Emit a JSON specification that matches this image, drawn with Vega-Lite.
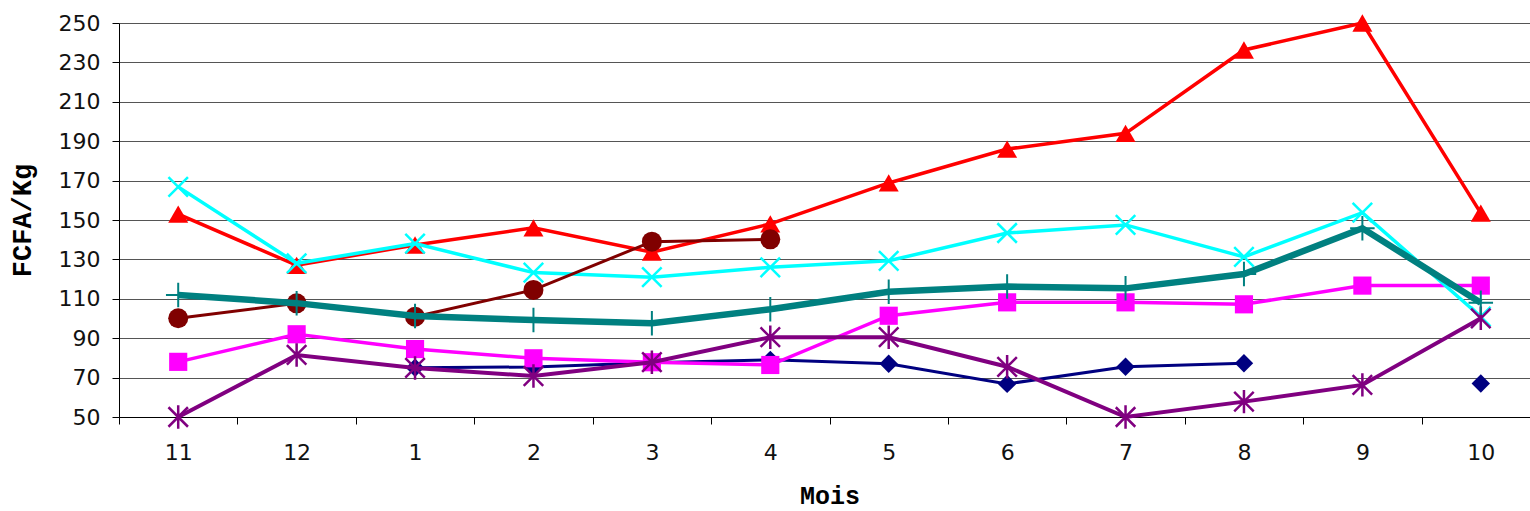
{
  "$schema": "https://vega.github.io/schema/vega-lite/v6.json",
  "width": 1411,
  "height": 394,
  "autosize": {"type": "none"},
  "padding": {"left": 119, "top": 23, "right": 0, "bottom": 94},
  "background": "white",
  "config": {"view": {"stroke": null}},
  "data": {
    "values": [
      {"mois": "1", "serie": "S1", "prix": 75},
      {"mois": "2", "serie": "S1", "prix": 75.4},
      {"mois": "3", "serie": "S1", "prix": 77.6},
      {"mois": "4", "serie": "S1", "prix": 79},
      {"mois": "5", "serie": "S1", "prix": 77},
      {"mois": "6", "serie": "S1", "prix": 66.8},
      {"mois": "7", "serie": "S1", "prix": 75.5},
      {"mois": "8", "serie": "S1", "prix": 77.3},
      {"mois": "9", "serie": "S1", "prix": null},
      {"mois": "10", "serie": "S1", "prix": 67},

      {"mois": "11", "serie": "S2", "prix": 78},
      {"mois": "12", "serie": "S2", "prix": 92},
      {"mois": "1", "serie": "S2", "prix": 84.5},
      {"mois": "2", "serie": "S2", "prix": 79.8},
      {"mois": "3", "serie": "S2", "prix": 77.8},
      {"mois": "4", "serie": "S2", "prix": 76.4},
      {"mois": "5", "serie": "S2", "prix": 101.4},
      {"mois": "6", "serie": "S2", "prix": 108.2},
      {"mois": "7", "serie": "S2", "prix": 108.2},
      {"mois": "8", "serie": "S2", "prix": 107.2},
      {"mois": "9", "serie": "S2", "prix": 116.7},
      {"mois": "10", "serie": "S2", "prix": 116.7},

      {"mois": "11", "serie": "S3", "prix": 153},
      {"mois": "12", "serie": "S3", "prix": 127},
      {"mois": "1", "serie": "S3", "prix": 137.3},
      {"mois": "2", "serie": "S3", "prix": 146},
      {"mois": "3", "serie": "S3", "prix": 133.7},
      {"mois": "4", "serie": "S3", "prix": 148},
      {"mois": "5", "serie": "S3", "prix": 168.8},
      {"mois": "6", "serie": "S3", "prix": 186},
      {"mois": "7", "serie": "S3", "prix": 194},
      {"mois": "8", "serie": "S3", "prix": 236.3},
      {"mois": "9", "serie": "S3", "prix": 250},
      {"mois": "10", "serie": "S3", "prix": 153.5},

      {"mois": "11", "serie": "S4", "prix": 166.8},
      {"mois": "12", "serie": "S4", "prix": 128},
      {"mois": "1", "serie": "S4", "prix": 138},
      {"mois": "2", "serie": "S4", "prix": 123.3},
      {"mois": "3", "serie": "S4", "prix": 121},
      {"mois": "4", "serie": "S4", "prix": 126},
      {"mois": "5", "serie": "S4", "prix": 129.3},
      {"mois": "6", "serie": "S4", "prix": 143.4},
      {"mois": "7", "serie": "S4", "prix": 147.5},
      {"mois": "8", "serie": "S4", "prix": 131.3},
      {"mois": "9", "serie": "S4", "prix": 153.7},
      {"mois": "10", "serie": "S4", "prix": 100.9},

      {"mois": "11", "serie": "S5", "prix": 50},
      {"mois": "12", "serie": "S5", "prix": 81.5},
      {"mois": "1", "serie": "S5", "prix": 74.9},
      {"mois": "2", "serie": "S5", "prix": 70.8},
      {"mois": "3", "serie": "S5", "prix": 77.8},
      {"mois": "4", "serie": "S5", "prix": 90.5},
      {"mois": "5", "serie": "S5", "prix": 90.5},
      {"mois": "6", "serie": "S5", "prix": 75.5},
      {"mois": "7", "serie": "S5", "prix": 50},
      {"mois": "8", "serie": "S5", "prix": 57.8},
      {"mois": "9", "serie": "S5", "prix": 66.3},
      {"mois": "10", "serie": "S5", "prix": 100.1},

      {"mois": "11", "serie": "S6", "prix": 100.1},
      {"mois": "12", "serie": "S6", "prix": 107.7},
      {"mois": "1", "serie": "S6", "prix": 100.9},
      {"mois": "2", "serie": "S6", "prix": 114.5},
      {"mois": "3", "serie": "S6", "prix": 139},
      {"mois": "4", "serie": "S6", "prix": 140.2},

      {"mois": "11", "serie": "S7", "prix": 111.9},
      {"mois": "12", "serie": "S7", "prix": 107.8},
      {"mois": "1", "serie": "S7", "prix": 101.3},
      {"mois": "2", "serie": "S7", "prix": 99.2},
      {"mois": "3", "serie": "S7", "prix": 97.6},
      {"mois": "4", "serie": "S7", "prix": 104.7},
      {"mois": "5", "serie": "S7", "prix": 113.6},
      {"mois": "6", "serie": "S7", "prix": 116.2},
      {"mois": "7", "serie": "S7", "prix": 115.3},
      {"mois": "8", "serie": "S7", "prix": 122.6},
      {"mois": "9", "serie": "S7", "prix": 145.8},
      {"mois": "10", "serie": "S7", "prix": 108}
    ]
  },
  "encoding": {
    "x": {
      "field": "mois",
      "type": "ordinal",
      "sort": ["11", "12", "1", "2", "3", "4", "5", "6", "7", "8", "9", "10"],
      "scale": {"type": "band", "paddingInner": 0, "paddingOuter": 0, "range": [0, 1421]},
      "bandPosition": 0.5,
      "axis": {
        "title": "Mois",
        "titleFont": "Liberation Mono",
        "titleFontWeight": "bold",
        "titleFontSize": 25,
        "titleColor": "#000",
        "titlePadding": 20,
        "labelFont": "DejaVu Sans",
        "labelFontSize": 22,
        "labelColor": "#111",
        "labelAngle": 0,
        "labelPadding": 18,
        "tickSize": 7,
        "tickBand": "extent",
        "tickColor": "#000",
        "domainColor": "#000",
        "grid": false
      }
    },
    "y": {
      "field": "prix",
      "type": "quantitative",
      "scale": {"domain": [50, 250], "nice": false, "zero": false},
      "axis": {
        "title": "FCFA/Kg",
        "titleFont": "Liberation Mono",
        "titleFontWeight": "bold",
        "titleFontSize": 27,
        "titleColor": "#000",
        "titlePadding": 22,
        "values": [50, 70, 90, 110, 130, 150, 170, 190, 210, 230, 250],
        "labelFont": "DejaVu Sans",
        "labelFontSize": 22,
        "labelColor": "#111",
        "labelPadding": 12,
        "tickSize": 7,
        "tickColor": "#000",
        "domainColor": "#000",
        "grid": true,
        "gridColor": "#555",
        "gridWidth": 1
      }
    }
  },
  "layer": [
    {
      "transform": [{"filter": "datum.serie === 'S1'"}],
      "mark": {"type": "line", "color": "#000080", "strokeWidth": 3, "invalid": "break-paths-filter-domains",
        "point": {"shape": "diamond", "filled": true, "size": 340, "color": "#000080"}}
    },
    {
      "transform": [{"filter": "datum.serie === 'S2'"}],
      "mark": {"type": "line", "color": "#FF00FF", "strokeWidth": 3.5,
        "point": {"shape": "square", "filled": true, "size": 330, "color": "#FF00FF"}}
    },
    {
      "transform": [{"filter": "datum.serie === 'S3'"}],
      "mark": {"type": "line", "color": "#FF0000", "strokeWidth": 3.5,
        "point": {"shape": "triangle-up", "filled": true, "size": 400, "color": "#FF0000"}}
    },
    {
      "transform": [{"filter": "datum.serie === 'S4'"}],
      "mark": {"type": "line", "color": "#00FFFF", "strokeWidth": 3.5,
        "point": {"shape": "M-1,-1L1,1M-1,1L1,-1", "filled": false, "size": 380, "strokeWidth": 2.5, "color": "#00FFFF"}}
    },
    {
      "transform": [{"filter": "datum.serie === 'S5'"}],
      "mark": {"type": "line", "color": "#800080", "strokeWidth": 4,
        "point": {"shape": "M-1,-1L1,1M-1,1L1,-1M0,-1.2L0,1.2", "filled": false, "size": 380, "strokeWidth": 2.5, "color": "#800080"}}
    },
    {
      "transform": [{"filter": "datum.serie === 'S6'"}],
      "mark": {"type": "line", "color": "#800000", "strokeWidth": 3,
        "point": {"shape": "circle", "filled": true, "size": 400, "color": "#800000"}}
    },
    {
      "transform": [{"filter": "datum.serie === 'S7'"}],
      "mark": {"type": "line", "color": "#008080", "strokeWidth": 6.5,
        "point": {"shape": "M0,-1L0,1M-1,0L1,0", "filled": false, "size": 600, "strokeWidth": 2, "color": "#008080"}}
    }
  ]
}
